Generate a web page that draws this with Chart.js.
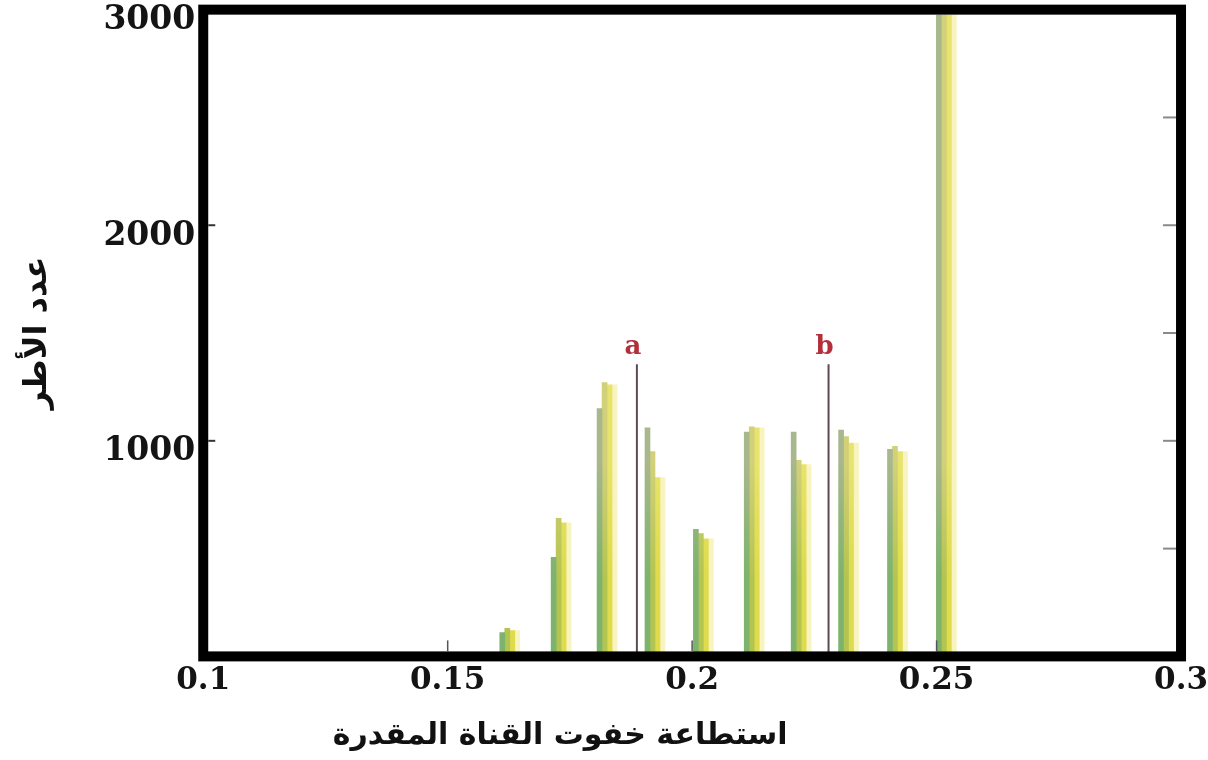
<!DOCTYPE html>
<html>
<head>
<meta charset="utf-8">
<script src="https://cdn.jsdelivr.net/npm/chart.js@4.4.1/dist/chart.umd.min.js"></script>
<style>
  html, body { margin: 0; padding: 0; background: #ffffff; }
  #wrap { width: 1208px; height: 760px; position: relative; }
</style>
</head>
<body>
<div id="wrap"><canvas id="chart"></canvas></div>
<script>
// Histogram of estimated channel fading power (frame counts per bin)
const binCentres  = [0.1627, 0.1732, 0.1826, 0.1924, 0.2023, 0.2127, 0.2223, 0.2320, 0.2420, 0.2520];
const edgeCounts  = [110, 460, 1150, 1060, 590, 1040, 1040, 1050, 960, 2975];
const coreCounts  = [130, 640, 1270, 950, 570, 1065, 910, 1020, 975, 2975];
const rimCounts   = [120, 620, 1260, 830, 545, 1060, 890, 990, 950, 2975];

// Reference thresholds a and b
const markerPositions = [0.1887, 0.2279];
const markerNames = ['a', 'b'];
const markerHeight = 1355;

const labelledCounts = [1000, 2000, 3000];
const xTickStep = 0.05;
const yTickStep = 500;
const xTitle = 'استطاعة خفوت القناة المقدرة';
const yTitle = 'عدد الأطر';

// Vertical colour ramp for a bar strip, anchored to the count axis
function stripFill(low, high) {
  return (ctx) => {
    const chart = ctx.chart;
    const y = chart.scales && chart.scales.y;
    if (!y || !chart.chartArea) return high;
    const g = chart.ctx.createLinearGradient(0, y.getPixelForValue(0), 0, y.getPixelForValue(900));
    g.addColorStop(0, low);
    g.addColorStop(0.4, low);
    g.addColorStop(1, high);
    return g;
  };
}

function strip(label, counts, fill) {
  return {
    type: 'bar',
    label,
    data: binCentres.map((x, i) => ({ x, y: counts[i] })),
    backgroundColor: fill,
    borderWidth: 0,
    barThickness: 5,
    order: 2
  };
}

const datasets = [
  strip('edge', edgeCounts, stripFill('#7db36c', '#a8b78c')),
  strip('core', coreCounts, stripFill('#b4c450', '#d2d079')),
  strip('rim', rimCounts, stripFill('#dedb4c', '#e8e36c')),
  strip('halo', rimCounts, '#f8f4c2')
];

markerPositions.forEach((pos, i) => {
  datasets.push({
    type: 'line',
    label: markerNames[i],
    data: [{ x: pos, y: 0 }, { x: pos, y: markerHeight }],
    borderColor: '#5d4a55',
    borderWidth: 2,
    pointRadius: 0,
    fill: false,
    order: 1
  });
});

// Thick black frame around the plotting area
const framePlugin = {
  id: 'frame',
  afterDatasetsDraw(chart) {
    const { ctx, chartArea: a } = chart;
    ctx.save();
    ctx.strokeStyle = '#000';
    ctx.lineWidth = 10;
    ctx.strokeRect(a.left, a.top, a.right - a.left, a.bottom - a.top);
    ctx.restore();
  }
};

// Short tick marks pointing into the plotting area
const innerTicksPlugin = {
  id: 'innerTicks',
  afterDatasetsDraw(chart) {
    const { ctx, chartArea: a, scales: { x, y } } = chart;
    ctx.save();
    ctx.lineWidth = 2;
    y.ticks.forEach(t => {
      if (t.value <= y.min || t.value >= y.max) return;
      const py = y.getPixelForValue(t.value);
      ctx.strokeStyle = '#8a8a8a';
      ctx.beginPath();
      ctx.moveTo(a.right - 5, py);
      ctx.lineTo(a.right - 18, py);
      ctx.stroke();
      if (labelledCounts.includes(t.value)) {
        ctx.strokeStyle = '#333';
        ctx.beginPath();
        ctx.moveTo(a.left + 5, py);
        ctx.lineTo(a.left + 12, py);
        ctx.stroke();
      }
    });
    ctx.lineWidth = 1.5;
    x.ticks.forEach(t => {
      if (t.value <= x.min + 1e-9 || t.value >= x.max - 1e-9) return;
      const px = x.getPixelForValue(t.value);
      ctx.strokeStyle = '#555';
      ctx.beginPath();
      ctx.moveTo(px, a.bottom - 5);
      ctx.lineTo(px, a.bottom - 16);
      ctx.stroke();
    });
    ctx.restore();
  }
};

// Letters above the threshold lines
const markerLabelPlugin = {
  id: 'markerLabels',
  afterDatasetsDraw(chart) {
    const { ctx } = chart;
    ctx.save();
    ctx.fillStyle = '#b3303b';
    ctx.font = 'bold 26px "DejaVu Serif"';
    ctx.textAlign = 'center';
    ctx.textBaseline = 'bottom';
    chart.data.datasets.forEach((ds, i) => {
      if (ds.type !== 'line') return;
      const meta = chart.getDatasetMeta(i);
      const top = meta.data[meta.data.length - 1];
      ctx.fillText(ds.label, top.x - 4, top.y - 4);
    });
    ctx.restore();
  }
};

// Horizontal axis title, set a little left of the plot centre below the tick labels
const xTitleShift = 0.365;
const xTitlePlugin = {
  id: 'xTitle',
  afterDraw(chart) {
    const { ctx, chartArea: a } = chart;
    ctx.save();
    ctx.fillStyle = '#111';
    ctx.font = 'bold 30px "DejaVu Sans"';
    ctx.textAlign = 'center';
    ctx.textBaseline = 'middle';
    ctx.fillText(xTitle, a.left + (a.right - a.left) * xTitleShift, a.bottom + 80);
    ctx.restore();
  }
};

const titleFont = { family: '"DejaVu Sans"', weight: 'bold', size: 32 };

new Chart(document.getElementById('chart'), {
  type: 'bar',
  data: { datasets },
  options: {
    responsive: true,
    maintainAspectRatio: false,
    animation: false,
    layout: { padding: { left: 18, right: 0, top: 0, bottom: 54 } },
    plugins: { legend: { display: false }, tooltip: { enabled: false } },
    scales: {
      x: {
        type: 'linear',
        min: 0.1,
        max: 0.3,
        offset: false,
        grid: { display: false, drawTicks: false, offset: false },
        border: { display: false },
        ticks: {
          stepSize: xTickStep,
          autoSkip: false,
          maxRotation: 0,
          padding: 0,
          color: '#141414',
          font: { family: '"DejaVu Serif"', weight: 'bold', size: 31, lineHeight: 1.6 },
          callback: v => parseFloat(v.toFixed(2)).toString()
        }
      },
      y: {
        type: 'linear',
        min: 0,
        max: 3000,
        grid: { display: false, drawTicks: false },
        border: { display: false },
        ticks: {
          stepSize: yTickStep,
          autoSkip: false,
          padding: 8,
          labelOffset: 11,
          color: '#141414',
          font: { family: '"DejaVu Serif"', weight: 'bold', size: 33, lineHeight: 0.1 },
          callback: v => labelledCounts.includes(v) ? String(v) : ''
        },
        title: { display: true, text: yTitle, color: '#111', font: titleFont, padding: { top: 0, bottom: 39 } }
      }
    }
  },
  plugins: [framePlugin, innerTicksPlugin, markerLabelPlugin, xTitlePlugin]
});
</script>
</body>
</html>
